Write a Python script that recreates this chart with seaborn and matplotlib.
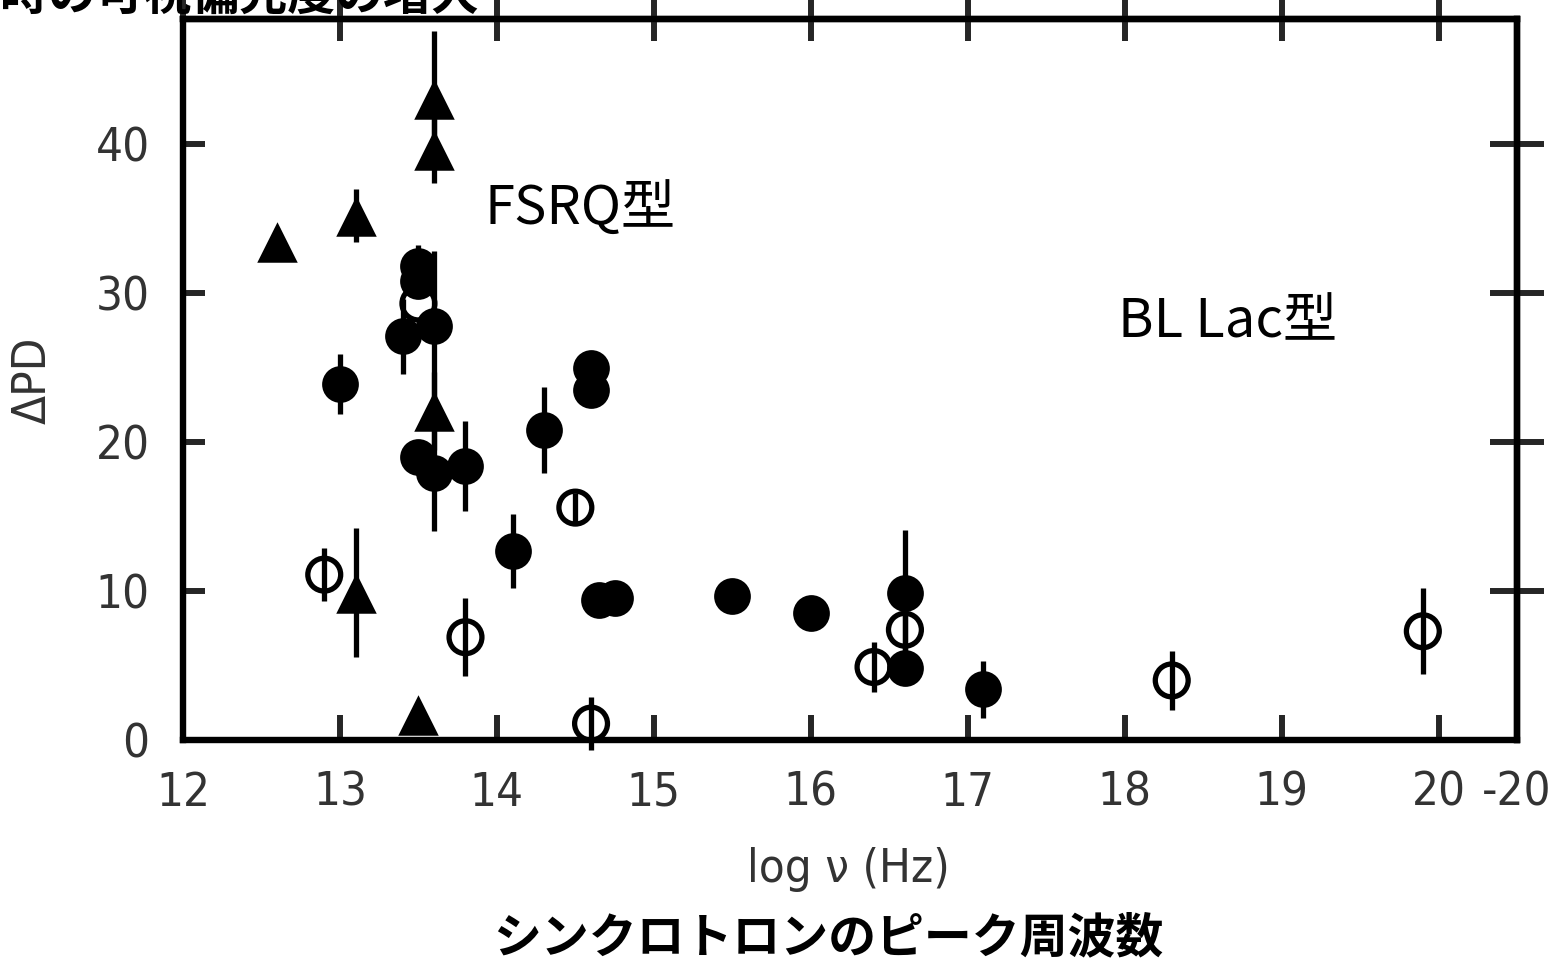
import numpy as np
import pandas as pd
import matplotlib
matplotlib.use("Agg")
import matplotlib.pyplot as plt
import seaborn as sns

# ---------------- data ----------------
tri_x = [12.6, 13.1, 13.6, 13.6, 13.6, 13.1, 13.5]
tri_y = [33.4, 35.2, 43.0, 39.6, 22.1, 9.9, 1.7]
tri_err = [1.0, 1.8, 4.6, 2.2, 2.6, 4.3, 0.0]

fc_x = [13.5, 13.5, 13.4, 13.6, 13.0, 13.5, 13.6, 13.8, 14.3, 14.6, 14.6,
        14.1, 14.65, 14.75, 15.5, 16.0, 16.6, 16.6, 17.1]
fc_y = [31.8, 30.8, 27.1, 27.8, 23.9, 19.0, 17.9, 18.4, 20.8, 25.0, 23.5,
        12.7, 9.4, 9.5, 9.7, 8.5, 9.9, 4.8, 3.4]
fc_err = [1.4, 0.0, 2.5, 5.0, 2.0, 0.0, 3.9, 3.0, 2.9, 0.0, 0.0,
          2.5, 0.8, 0.0, 0.0, 0.0, 4.2, 0.0, 1.9]

oc_x = [13.5, 12.9, 13.8, 14.5, 14.6, 16.4, 16.6, 18.3, 19.9]
oc_y = [29.3, 11.1, 6.9, 15.6, 1.1, 4.9, 7.4, 4.0, 7.3]
oc_err = [0.0, 1.8, 2.6, 1.0, 1.8, 1.7, 1.5, 2.0, 2.9]

x_ticks = [12, 13, 14, 15, 16, 17, 18, 19, 20, 20.5]
x_tick_labels = ["12", "13", "14", "15", "16", "17", "18", "19", "20", "-20"]
y_ticks = [0, 10, 20, 30, 40]
y_tick_labels = ["0", "10", "20", "30", "40"]

x_label = "log ν (Hz)"
y_label = "ΔPD"
sub_label = "シンクロトロンのピーク周波数"
top_title = "時の可視偏光度の増大"
fsrq_label = "FSRQ型"
bllac_label = "BL Lac型"

# ---------------- style ----------------
sns.set_theme(style="white")
plt.rcParams['font.family'] = ['DejaVu Sans', 'Noto Sans CJK JP']

fig = plt.figure(figsize=(15.51, 9.61), dpi=100)
fig.patch.set_facecolor("white")
ax = fig.add_axes([183 / 1551, 1 - 740 / 961, (1517 - 183) / 1551, (740 - 19) / 961])
ax.set_facecolor("white")

tri_df = pd.DataFrame({"x": tri_x, "y": tri_y, "e": tri_err})
fc_df = pd.DataFrame({"x": fc_x, "y": fc_y, "e": fc_err})
oc_df = pd.DataFrame({"x": oc_x, "y": oc_y, "e": oc_err})

EB_LW = 3.8
# error bars
for df in (oc_df, fc_df, tri_df):
    ax.errorbar(df["x"], df["y"], yerr=df["e"], fmt="none", ecolor="black",
                elinewidth=EB_LW, capsize=0, zorder=2, clip_on=False)

# open circles
sns.scatterplot(data=oc_df, x="x", y="y", ax=ax, marker="o", s=560,
                facecolor="none", edgecolor="black", linewidth=3.8,
                zorder=3, legend=False, clip_on=False)
# filled circles
sns.scatterplot(data=fc_df, x="x", y="y", ax=ax, marker="o", s=700,
                color="black", edgecolor="black", linewidth=0,
                zorder=4, legend=False)
# filled triangles
sns.scatterplot(data=tri_df, x="x", y="y", ax=ax, marker="^", s=850,
                color="black", edgecolor="black", linewidth=0,
                zorder=5, legend=False)

ax.set_xlim(12, 20.5)
ax.set_ylim(0, 48.4)

num_font = dict(family="DejaVu Sans", fontstretch="condensed", size=34, color="#333333")

ax.set_xticks(x_ticks)
ax.set_xticklabels(x_tick_labels, fontdict=num_font)
ax.set_yticks(y_ticks)
ax.set_yticklabels(y_tick_labels, fontdict=num_font)
ax.tick_params(axis="x", direction="in", length=18, width=4.3, pad=22,
               bottom=True, top=False)
ax.tick_params(axis="y", direction="in", length=16, width=4.3, pad=24,
               left=True, right=False)
ax.set_xlabel("")
ax.set_ylabel("")

for sp in ax.spines.values():
    sp.set_visible(True)
    sp.set_linewidth(4.6)
    sp.set_color("black")

# top ticks crossing the frame
secx = ax.secondary_xaxis("top")
secx.set_xticks([12, 13, 14, 15, 16, 17, 18, 19, 20])
secx.set_xticklabels([])
secx.tick_params(axis="x", direction="inout", length=32, width=4.3)
secx.spines["top"].set_linewidth(4.6)

secy = ax.secondary_yaxis("right")
secy.set_yticks([10, 20, 30, 40])
secy.set_yticklabels([])
secy.tick_params(axis="y", direction="inout", length=39, width=4.3)
secy.spines["right"].set_linewidth(4.6)

# axis labels
fig.text(848 / 1551, 1 - 870 / 961, x_label, ha="center", va="center",
         family="DejaVu Sans", fontstretch="condensed", fontsize=34, color="#333333")
fig.text(33 / 1551, 1 - 380 / 961, y_label, ha="center", va="center", rotation=90,
         family="DejaVu Sans", fontstretch="condensed", fontsize=34, color="#333333")

# slide texts
fig.text(828 / 1551, 1 - 938 / 961, sub_label, ha="center", va="center",
         family=["Noto Sans CJK JP"], fontweight="bold", fontsize=34.5, color="black")
fig.text(0 / 1551, 1 - 20 / 961, top_title, ha="left", va="bottom",
         family=["Noto Sans CJK JP"], fontweight="bold", fontsize=34.5, color="black")

ax.text(13.92, 35.6, fsrq_label, ha="left", va="center",
        family=["Noto Sans CJK JP"], fontsize=39, color="black")
ax.text(17.955, 28.05, bllac_label, ha="left", va="center",
        family=["Noto Sans CJK JP"], fontsize=39, color="black")

fig.savefig("out.png", dpi=100, facecolor="white")
